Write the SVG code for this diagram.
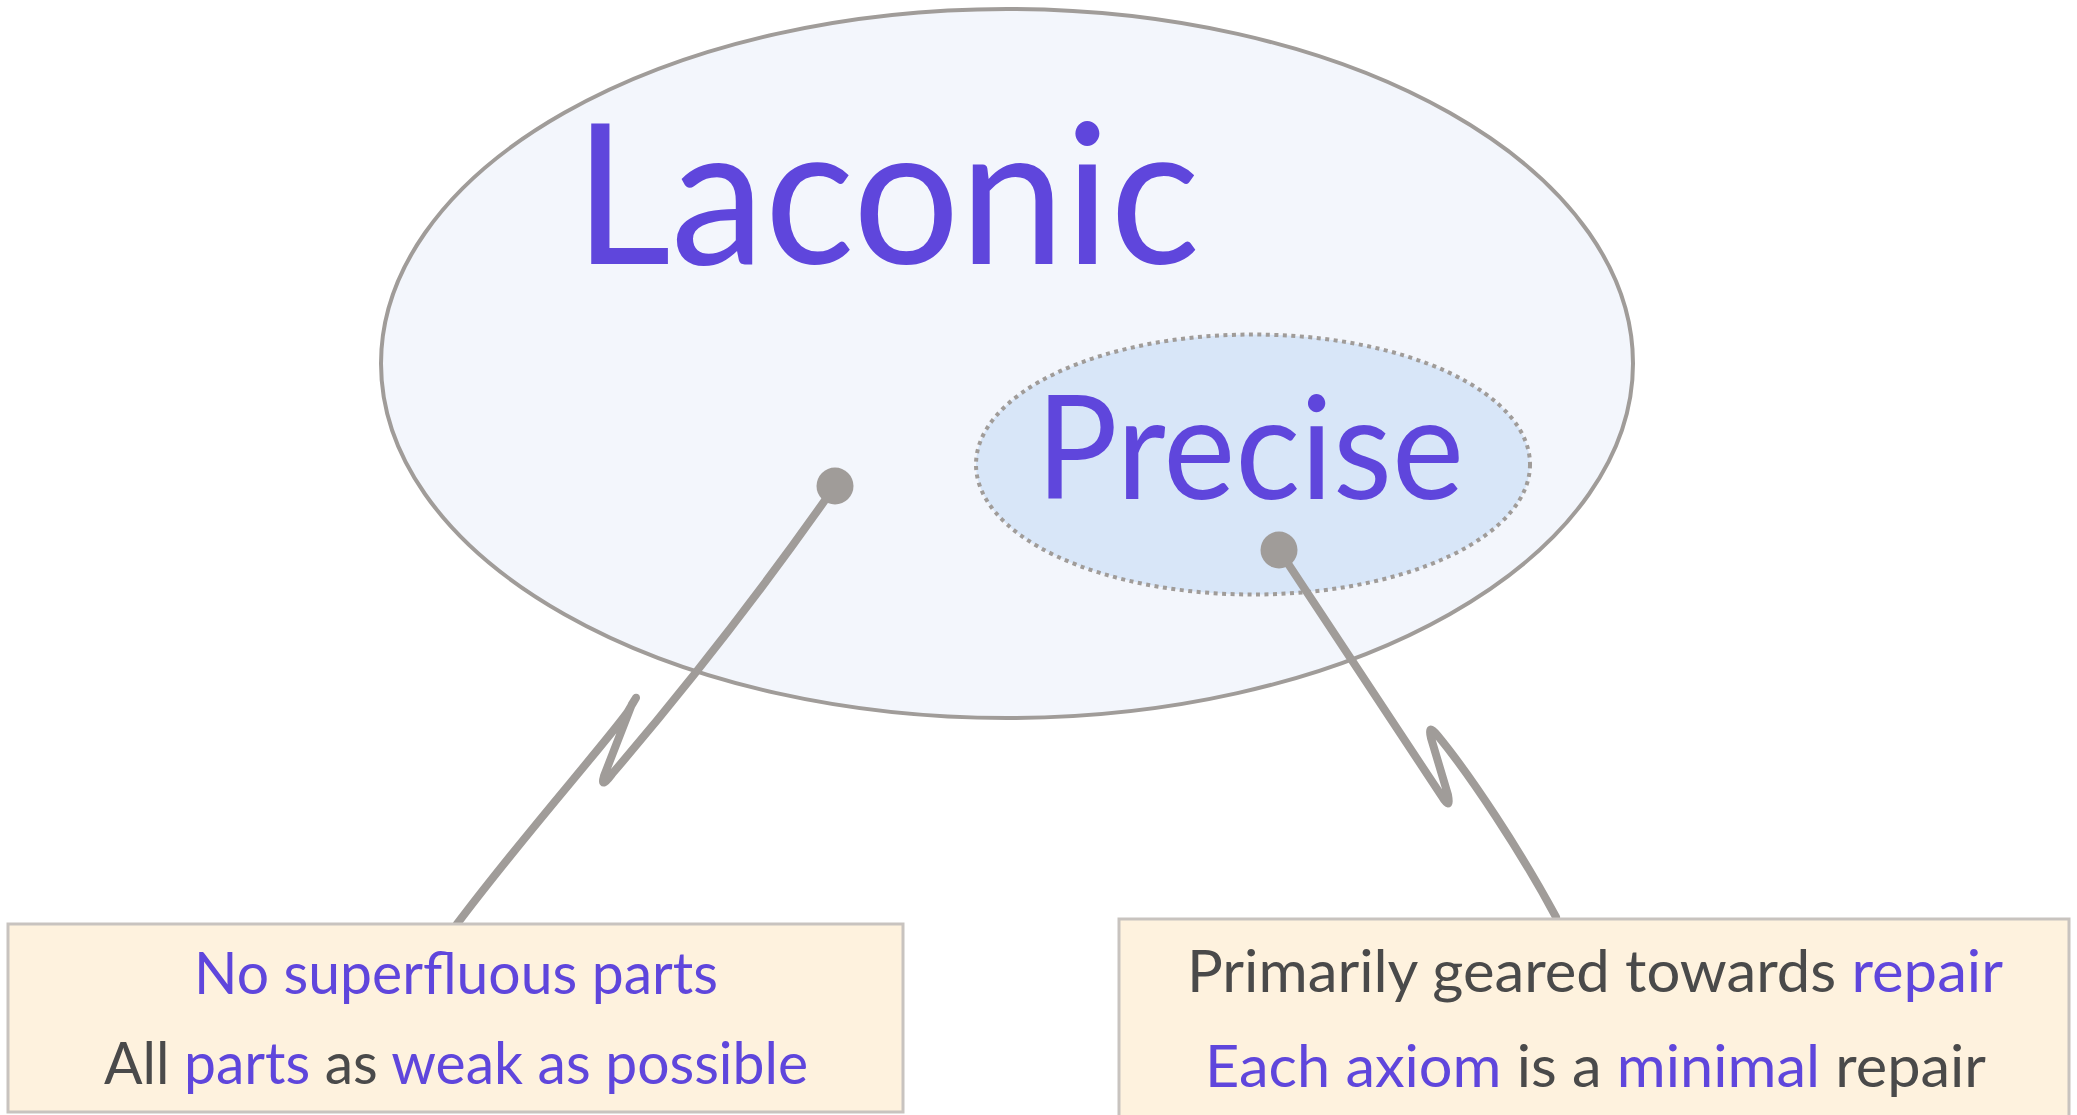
<svg xmlns="http://www.w3.org/2000/svg" width="2077" height="1115" viewBox="0 0 2077 1115">
  <style>
    .blue { fill: #5F46DC; }
    .gray { fill: #4A4A4A; }
    .t { font-family: Lato, "Open Sans", "Liberation Sans", sans-serif; }
    .conn { fill: none; stroke: #A09C99; stroke-width: 8; stroke-linecap: round; stroke-linejoin: round; }
    .dot { fill: #A09C99; }
    .box { fill: #FEF2DE; stroke: #C8C3BF; stroke-width: 3; }
  </style>
  <rect x="0" y="0" width="2077" height="1115" fill="#FFFFFF"/>
  <g id="laconic">
    <ellipse cx="1007" cy="363.5" rx="626" ry="354.5" fill="#F3F6FC" stroke="#A09C99" stroke-width="4"/>
    <text class="t blue" x="574" y="264" font-size="197" textLength="626" lengthAdjust="spacingAndGlyphs">Laconic</text>
  </g>
  <g id="precise">
    <ellipse cx="1253" cy="464.5" rx="277" ry="130" fill="#D8E6F8" stroke="#A09C99" stroke-width="4" stroke-dasharray="4 4.5"/>
    <text class="t blue" x="1036" y="499" font-size="144" textLength="428" lengthAdjust="spacingAndGlyphs">Precise</text>
  </g>
  <g id="connectors">
    <path class="conn" d="M835,486 Q730,636 612,774 Q600,790 604,776 L632,704 Q642,688 627,713 C598,752 520,840 457,924"/>
    <path class="conn" d="M1279,550 L1441,795 Q1451,812 1448,795 L1431,738 Q1427,722 1438,736 C1470,775 1520,850 1556,917"/>
    <circle class="dot" cx="835" cy="486" r="18.5"/>
    <circle class="dot" cx="1279" cy="550" r="18.5"/>
  </g>
  <g id="laconic-note">
    <rect class="box" x="8" y="924" width="895" height="188"/>
    <text class="t blue" x="194" y="994" font-size="58" textLength="524" lengthAdjust="spacingAndGlyphs">No superfluous parts</text>
    <text class="t" x="104" y="1084" font-size="58" textLength="704" lengthAdjust="spacingAndGlyphs"><tspan class="gray">All </tspan><tspan class="blue">parts</tspan><tspan class="gray"> as </tspan><tspan class="blue">weak as possible</tspan></text>
  </g>
  <g id="precise-note">
    <rect class="box" x="1119" y="919" width="950" height="210"/>
    <text class="t" x="1187" y="992" font-size="58" textLength="816" lengthAdjust="spacingAndGlyphs"><tspan class="gray">Primarily geared towards </tspan><tspan class="blue">repair</tspan></text>
    <text class="t" x="1205" y="1087" font-size="58" textLength="781" lengthAdjust="spacingAndGlyphs"><tspan class="blue">Each axiom</tspan><tspan class="gray"> is a </tspan><tspan class="blue">minimal</tspan><tspan class="gray"> repair</tspan></text>
  </g>
</svg>
